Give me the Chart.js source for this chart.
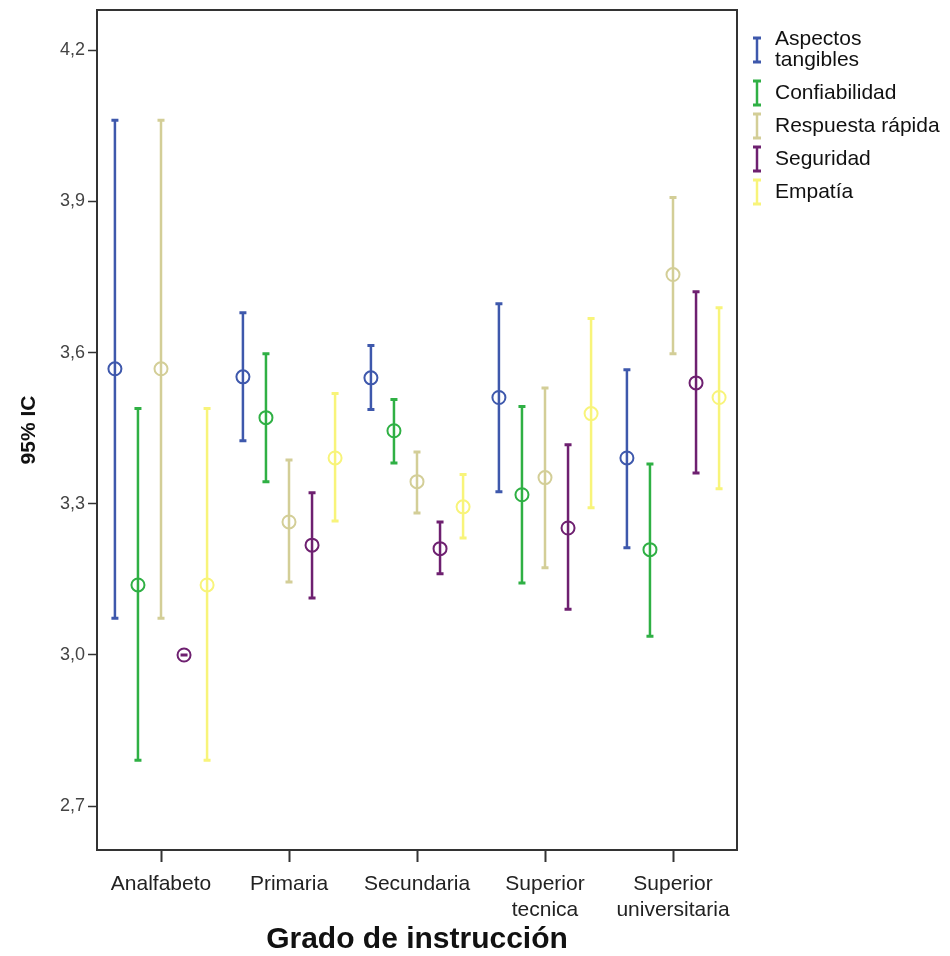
<!DOCTYPE html>
<html>
<head>
<meta charset="utf-8">
<script src="https://cdn.jsdelivr.net/npm/chart.js@4/dist/chart.umd.min.js"></script>
<style>
 html,body{margin:0;padding:0;background:#fff;}
 #wrap{position:relative;width:950px;height:956px;}
</style>
</head>
<body>
<div id="wrap"><canvas id="ciCanvas" width="950" height="956"></canvas></div>
<script>
/* ----- DATA ----- */
const categories=['Analfabeto','Primaria','Secundaria',['Superior','tecnica'],['Superior','universitaria']];
const seriesNames=[['Aspectos','tangibles'],'Confiabilidad','Respuesta rápida','Seguridad','Empatía'];
const seriesColors=['#3e58ac','#2fb044','#d3ce97','#6e2070','#f8f47a'];
const yTicks=[2.7,3.0,3.3,3.6,3.9,4.2];

const meanTangibles=[3.568,3.552,3.550,3.511,3.391];
const lowTangibles =[3.073,3.425,3.487,3.324,3.213];
const highTangibles=[4.061,3.679,3.614,3.697,3.566];

const meanConfiab=[3.139,3.471,3.445,3.318,3.209];
const lowConfiab =[2.791,3.344,3.381,3.143,3.037];
const highConfiab=[3.489,3.598,3.507,3.493,3.379];

const meanRespuesta=[3.568,3.264,3.344,3.352,3.755];
const lowRespuesta =[3.073,3.145,3.282,3.173,3.598];
const highRespuesta=[4.061,3.387,3.403,3.530,3.908];

const meanSeguridad=[3.000,3.218,3.211,3.252,3.540];
const lowSeguridad =[3.000,3.113,3.161,3.091,3.361];
const highSeguridad=[3.000,3.322,3.264,3.417,3.721];

const meanEmpatia=[3.139,3.391,3.294,3.479,3.511];
const lowEmpatia =[2.791,3.266,3.232,3.292,3.330];
const highEmpatia=[3.489,3.519,3.358,3.668,3.689];

const means=[meanTangibles,meanConfiab,meanRespuesta,meanSeguridad,meanEmpatia];
const lows=[lowTangibles,lowConfiab,lowRespuesta,lowSeguridad,lowEmpatia];
const highs=[highTangibles,highConfiab,highRespuesta,highSeguridad,highEmpatia];

const FONT="'Liberation Sans', Arial, sans-serif";
const groupStep=0.18;

/* ----- ERROR BARS + BOX + LEGEND ----- */
const errorBars={
 id:'errorBars',
 beforeDatasetsDraw(chart){
  const ctx=chart.ctx, ys=chart.scales.y;
  chart.data.datasets.forEach((ds,j)=>{
   const meta=chart.getDatasetMeta(j);
   meta.data.forEach((pt,i)=>{
    const x=pt.x;
    const yl=ys.getPixelForValue(lows[j][i]);
    const yh=ys.getPixelForValue(highs[j][i]);
    ctx.save();
    ctx.strokeStyle=seriesColors[j];
    ctx.lineWidth=2.5;
    ctx.beginPath();
    ctx.moveTo(x,yl);ctx.lineTo(x,yh);
    ctx.stroke();
    ctx.lineWidth=3;
    ctx.beginPath();
    ctx.moveTo(x-3.5,yl);ctx.lineTo(x+3.5,yl);
    ctx.moveTo(x-3.5,yh);ctx.lineTo(x+3.5,yh);
    ctx.stroke();
    ctx.restore();
   });
  });
 },
 afterDraw(chart){
  const ctx=chart.ctx, a=chart.chartArea;
  ctx.save();
  ctx.strokeStyle='#333';
  ctx.lineWidth=2;
  ctx.strokeRect(a.left,a.top,a.right-a.left,a.bottom-a.top);

  // legend
  ctx.font='21px '+FONT;
  ctx.fillStyle='#111';
  ctx.textBaseline='middle';
  let y=39;
  seriesNames.forEach((name,j)=>{
   const lines=Array.isArray(name)?name:[name];
   const cy=y+(lines.length-1)*11;
   ctx.strokeStyle=seriesColors[j];
   ctx.lineWidth=2.5;
   ctx.beginPath();
   ctx.moveTo(757,cy-12);ctx.lineTo(757,cy+12);
   ctx.stroke();
   ctx.lineWidth=3;
   ctx.beginPath();
   ctx.moveTo(753,cy-12);ctx.lineTo(761,cy-12);
   ctx.moveTo(753,cy+12);ctx.lineTo(761,cy+12);
   ctx.stroke();
   lines.forEach((t,k)=>ctx.fillText(t,775,y+k*21));
   y+=(lines.length-1)*21+33;
  });
  ctx.restore();
 }
};

/* ----- CHART ----- */
const datasets=means.map((m,j)=>({
 label:Array.isArray(seriesNames[j])?seriesNames[j].join(' '):seriesNames[j],
 data:m.map((v,i)=>({x:i+(j-2)*groupStep,y:v})),
 borderColor:seriesColors[j],
 backgroundColor:'rgba(0,0,0,0)',
 pointRadius:6.5,
 pointBorderWidth:2,
 pointHoverRadius:6.5,
 showLine:false
}));

new Chart(ciCanvas,{
 type:'scatter',
 data:{datasets},
 plugins:[errorBars],
 options:{
  responsive:false,
  animation:false,
  events:[],
  layout:{padding:{left:0,top:10,right:213,bottom:0}},
  plugins:{legend:{display:false},tooltip:{enabled:false}},
  scales:{
   x:{
    type:'linear',min:-0.5,max:4.5,
    afterBuildTicks:s=>{s.ticks=categories.map((c,i)=>({value:i}));},
    afterFit:s=>{s.height=106;s.paddingLeft=0;s.paddingRight=0;},
    grid:{drawOnChartArea:false,tickLength:12,tickColor:'#333',tickWidth:2},
    border:{display:true,color:'#333',width:2},
    ticks:{
     autoSkip:false,maxRotation:0,padding:10,
     color:'#222',font:{family:FONT,size:21},
     callback:v=>categories[v]
    },
    title:{display:true,text:'Grado de instrucción',color:'#111',
     font:{family:FONT,size:30,weight:'bold',lineHeight:1.1},padding:{top:0,bottom:0}}
   },
   y:{
    type:'linear',min:2.613,max:4.28,
    afterBuildTicks:s=>{s.ticks=yTicks.map(v=>({value:v}));},
    afterFit:s=>{s.width=97;s.paddingTop=0;s.paddingBottom=0;},
    grid:{drawOnChartArea:false,tickLength:9,tickColor:'#333',tickWidth:1.5},
    border:{display:true,color:'#333',width:2},
    ticks:{
     padding:3,color:'#444',font:{family:FONT,size:18},
     callback:v=>v.toFixed(1).replace('.',',')
    },
    title:{display:true,text:'95% IC',color:'#111',
     font:{family:FONT,size:21,weight:'bold'},padding:{top:17,bottom:0}}
   }
  }
 }
});
</script>
</body>
</html>
